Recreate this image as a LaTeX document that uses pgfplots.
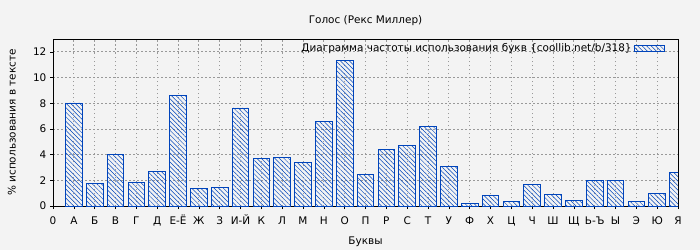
\documentclass[border=0pt]{standalone}
\usepackage{fontspec}
\setmainfont{DejaVu Sans}
\usepackage{pgfplots}
\pgfplotsset{compat=1.18}
\usetikzlibrary{patterns.meta}
\definecolor{bg}{HTML}{F3F3F3}
\definecolor{barblue}{HTML}{0044BB}
\definecolor{gridgray}{HTML}{999999}
\begin{document}
\begin{tikzpicture}[x=1bp,y=1bp]
\fill[bg] (0,0) rectangle (700,250);
\useasboundingbox (0,0) rectangle (700,250);
\fontsize{10.5}{12}\selectfont
\begin{axis}[
  at={(53bp,44bp)}, anchor=south west,
  scale only axis,
  width=625bp, height=167bp,
  xmin=0, xmax=30, ymin=0, ymax=13,
  axis background/.style={fill=bg},
  axis line style={black, line width=0.8pt},
  xtick={0,...,30},
  xticklabels={0,А,Б,В,Г,Д,Е-Ё,Ж,З,И-Й,К,Л,М,Н,О,П,Р,С,Т,У,Ф,Х,Ц,Ч,Ш,Щ,Ь-Ъ,Ы,Э,Ю,Я},
  ytick={0,2,...,12},
  xtick pos=bottom, ytick pos=left,
  tick align=outside,
  major tick length=3bp,
  tick style={black, line width=0.6pt},
  xmajorgrids, ymajorgrids,
  grid style={gridgray, line width=0.7pt, dash pattern=on 1.5bp off 2.5bp},
  /pgf/number format/assume math mode=true,
  tick label style={font=\fontsize{10.5}{12}\selectfont},
  xticklabel style={text height=7.7bp, text depth=0bp, yshift=-4bp},
  label style={font=\fontsize{10.5}{12}\selectfont},
  title style={font=\fontsize{10.5}{12}\selectfont, yshift=4bp},
  title={Голос (Рекс Миллер)},
  xlabel={Буквы},
  ylabel={\% использования в тексте},
  xlabel style={yshift=-5bp},
  ylabel style={yshift=10bp},
  legend style={at={(rel axis cs:0.980,0.99)}, anchor=north east, draw=none, fill=none,
    font=\fontsize{10.5}{12}\selectfont, inner sep=1bp},
  legend plot pos=right,
  legend image code/.code={\draw[draw=barblue, line width=0.7pt, pattern={Lines[angle=-45,distance=3.2bp,line width=0.5pt]}, pattern color=barblue] (10bp,-3bp) rectangle (40bp,3bp);},
]
\addplot[ybar, bar width=0.8, draw=barblue, line width=0.8pt,
  pattern={Lines[angle=-45,distance=3.2bp,line width=0.5pt]}, pattern color=barblue]
coordinates {
(1,8.02) (2,1.77) (3,4.03) (4,1.85) (5,2.71) (6,8.64) (7,1.38) (8,1.46) (9,7.63) (10,3.72)
(11,3.80) (12,3.41) (13,6.61) (14,11.30) (15,2.47) (16,4.42) (17,4.74) (18,6.22) (19,3.10) (20,0.21)
(21,0.83) (22,0.36) (23,1.69) (24,0.91) (25,0.44) (26,2.00) (27,2.00) (28,0.36) (29,0.99) (30,2.63)
};
\addlegendentry{Диаграмма частоты использования букв \{coollib.net/b/318\}\hspace{7bp}}
\end{axis}
\end{tikzpicture}
\end{document}
